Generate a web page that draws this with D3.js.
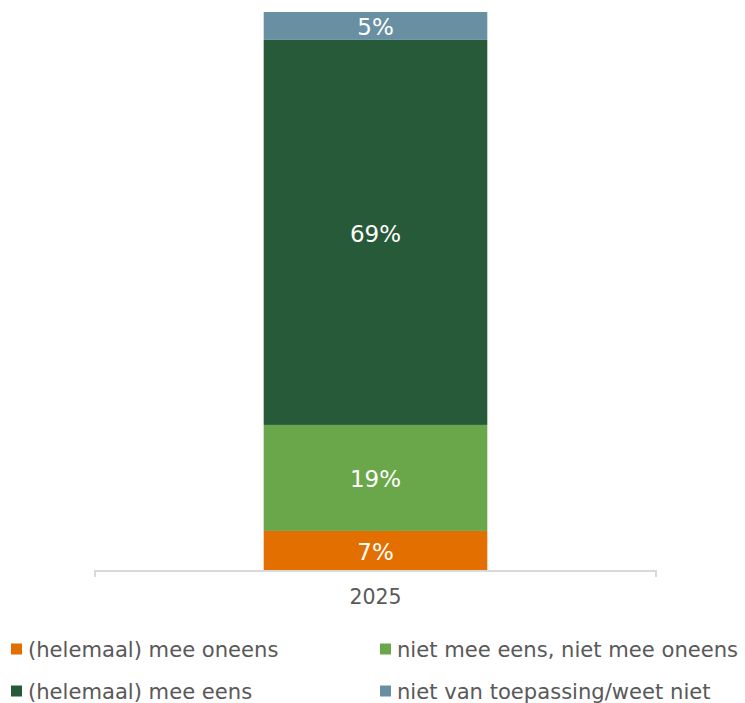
<!DOCTYPE html>
<html>
<head>
<meta charset="utf-8">
<script src="https://cdn.jsdelivr.net/npm/d3@7"></script>
<style>
  html, body { margin: 0; padding: 0; background: #fff; }
  svg { display: block; font-family: Verdana, "DejaVu Sans", sans-serif; }
</style>
</head>
<body>
<svg id="chart" width="745" height="703"></svg>
<script>
// Survey answers for 2025, stacked bottom to top
const years = ["2025"];
const categories = [
  "(helemaal) mee oneens",
  "niet mee eens, niet mee oneens",
  "(helemaal) mee eens",
  "niet van toepassing/weet niet"
];
const values = [7, 19, 69, 5];
const colors = ["#E26F00", "#6AA74A", "#275A38", "#6890A2"];

const svg = d3.select("#chart");
const plot = { left: 95, right: 656, top: 12, bottom: 570 };

const x = d3.scaleBand().domain(years).range([plot.left, plot.right]).padding(0.43);
const y = d3.scaleLinear().domain([0, 100]).range([plot.bottom, plot.top]);

// cumulative stacking
const rows = [{ year: years[0] }];
categories.forEach((c, i) => rows[0][c] = values[i]);
const stack = d3.stack().keys(categories)(rows);

const g = svg.append("g");
stack.forEach((layer, i) => {
  const d = layer[0];
  g.append("rect")
    .attr("x", x(years[0]))
    .attr("width", x.bandwidth())
    .attr("y", y(d[1]))
    .attr("height", y(d[0]) - y(d[1]))
    .attr("fill", colors[i]);
  g.append("text")
    .attr("x", x(years[0]) + x.bandwidth() / 2)
    .attr("y", (y(d[0]) + y(d[1])) / 2 + 1.5)
    .attr("text-anchor", "middle")
    .attr("dominant-baseline", "central")
    .attr("fill", "#fff")
    .attr("font-size", 23)
    .text(values[i] + "%");
});

// category axis
const axis = svg.append("g")
  .attr("transform", `translate(0,${plot.bottom + 1})`)
  .call(d3.axisBottom(x).tickSize(0).tickPadding(18));
axis.select(".domain").remove();
axis.append("path")
  .attr("d", `M${plot.left},6V0H${plot.right}V6`)
  .attr("fill", "none")
  .attr("stroke", "#d9d9d9")
  .attr("stroke-width", 2);
axis.selectAll(".tick text")
  .attr("fill", "#595959")
  .attr("font-size", 20.5)
  .attr("font-family", "Verdana, 'DejaVu Sans', sans-serif");

// legend, two columns by two rows
const legendPos = [[11, 649], [380, 649], [11, 691], [380, 691]];
categories.forEach((c, i) => {
  const [lx, ly] = legendPos[i];
  const item = svg.append("g").attr("transform", `translate(${lx},${ly})`);
  item.append("rect").attr("x", 0).attr("y", -5.5).attr("width", 11).attr("height", 11).attr("fill", colors[i]);
  item.append("text")
    .attr("x", 17)
    .attr("y", 0)
    .attr("dominant-baseline", "central")
    .attr("fill", "#595959")
    .attr("font-size", 21.1)
    .text(c);
});
</script>
</body>
</html>
